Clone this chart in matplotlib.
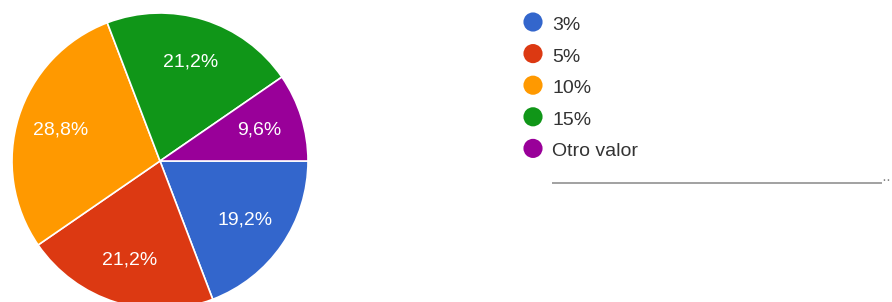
import matplotlib
matplotlib.use("Agg")
import matplotlib.pyplot as plt

plt.rcParams['font.family'] = ['Liberation Sans', 'DejaVu Sans']

# data (clockwise from 3 o'clock)
labels = ['3%', '5%', '10%', '15%', 'Otro valor']
values = [19.2, 21.2, 28.8, 21.2, 9.6]
colors = ['#3366cc', '#dc3912', '#ff9900', '#109618', '#990099']

W, H = 892, 302
fig = plt.figure(figsize=(W / 100, H / 100), dpi=100)

# pie: center ~ (160,161) px, radius ~148 px
cx, cy, r = 160, 161, 148
ax = fig.add_axes([(cx - r) / W, (H - cy - r) / H, 2 * r / W, 2 * r / H])
wedges, texts, autotexts = ax.pie(
    values, colors=colors, startangle=0, counterclock=False,
    autopct=lambda p: ('%.1f%%' % p).replace('.', ','),
    pctdistance=0.7, radius=1,
    wedgeprops=dict(edgecolor='white', linewidth=1.2),
    textprops=dict(color='white', fontsize=14))
ax.set_xlim(-1, 1)
ax.set_ylim(-1, 1)
ax.axis('off')

# legend drawn in pixel coordinates
lg = fig.add_axes([0, 0, 1, 1])
lg.set_xlim(0, W)
lg.set_ylim(H, 0)
lg.axis('off')
for i, (lab, col) in enumerate(zip(labels, colors)):
    y = 22 + 31.6 * i
    lg.scatter([533], [y], s=190, color=col, edgecolors='none')
    lg.text(552, y + 8, lab, va='baseline', ha='left', fontsize=14, color='#333333')

lg.plot([552, 882], [183, 183], color='#888888', lw=1.1, solid_capstyle='butt')
lg.text(881, 180, '··', va='center', ha='left', fontsize=11, color='#888888')

fig.savefig('out.png', dpi=100)
